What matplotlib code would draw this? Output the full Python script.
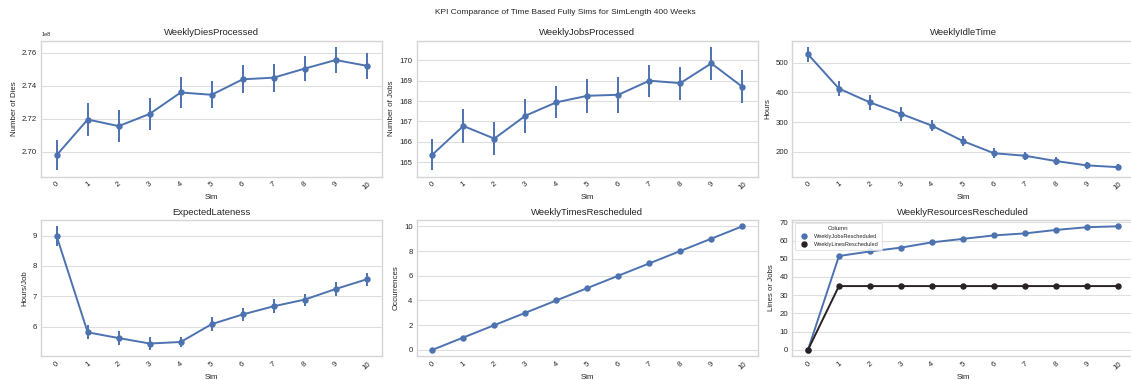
import matplotlib
matplotlib.use("Agg")
import matplotlib.pyplot as plt
from matplotlib.lines import Line2D
import numpy as np

plt.rcParams['font.family'] = ['Liberation Sans', 'DejaVu Sans']
plt.rcParams['text.color'] = '.15'
plt.rcParams['axes.labelcolor'] = '.15'
plt.rcParams['xtick.color'] = '.15'
plt.rcParams['ytick.color'] = '.15'

sims = list(range(11))

dies_mean = [2.6980e8, 2.7196e8, 2.7156e8, 2.7230e8, 2.7360e8, 2.7346e8,
             2.7440e8, 2.7450e8, 2.7505e8, 2.7557e8, 2.7522e8]
dies_err = [0.0093e8, 0.0100e8, 0.0098e8, 0.0096e8, 0.0093e8, 0.0082e8,
            0.0084e8, 0.0085e8, 0.0075e8, 0.0080e8, 0.0078e8]

jobs_mean = [165.37, 166.78, 166.16, 167.28, 167.94, 168.26,
             168.31, 169.00, 168.88, 169.85, 168.70]
jobs_err = [0.77, 0.82, 0.80, 0.83, 0.78, 0.84, 0.87, 0.79, 0.81, 0.81, 0.80]

idle_mean = [529, 413, 366.5, 328, 288, 236, 195, 186.6, 168.6, 154, 148]
idle_err = [25, 25, 24, 24, 18, 18, 16, 13, 13, 11, 11]

late_mean = [8.98, 5.81, 5.62, 5.44, 5.49, 6.08, 6.40, 6.67, 6.89, 7.24, 7.56]
late_err = [0.33, 0.23, 0.23, 0.21, 0.18, 0.22, 0.22, 0.23, 0.20, 0.23, 0.22]

times_resched = [0, 1, 2, 3, 4, 5, 6, 7, 8, 9, 10]

jobs_resched = [0, 51.5, 54.0, 56.1, 59.0, 60.9, 62.8, 63.9, 65.8, 67.3, 67.8]
lines_resched = [0, 35, 35, 35, 35, 35, 35, 35, 35, 35, 35]

blue = '#4c72b0'
dark = '#2a2222'

fig, axes = plt.subplots(2, 3, figsize=(11.31, 3.8), dpi=100)
fig.subplots_adjust(left=0.0364, right=1.0022, top=0.893, bottom=0.063,
                    wspace=0.1015, hspace=0.32)
fig.suptitle('KPI Comparance of Time Based Fully Sims for SimLength 400 Weeks',
             fontsize=6, y=0.975)


def style(ax, title, ylabel):
    ax.set_facecolor('white')
    for s in ax.spines.values():
        s.set_color('#d5d5d5')
        s.set_linewidth(1.0)
    ax.grid(axis='y', color='#dedede', linewidth=0.8)
    ax.set_axisbelow(True)
    ax.tick_params(length=0, labelsize=5.6, pad=3)
    ax.set_xlim(-0.5, 10.5)
    ax.set_xticks(sims)
    ax.set_xticklabels([str(s) for s in sims], rotation=40)
    ax.set_title(title, fontsize=6.8, pad=4)
    ax.set_ylabel(ylabel, fontsize=5.7, labelpad=3)
    ax.set_xlabel('Sim', fontsize=5.7, labelpad=2)
    ax.yaxis.get_offset_text().set_fontsize(4)


def point(ax, mean, err=None, color=blue, label=None):
    ax.plot(sims, mean, color=color, linewidth=1.4, marker='o', markersize=3.6,
            label=label, zorder=3)
    if err is not None:
        lo = np.array(mean) - np.array(err)
        hi = np.array(mean) + np.array(err)
        ax.vlines(sims, lo, hi, color=color, linewidth=1.4, zorder=3)


point(axes[0, 0], dies_mean, dies_err)
style(axes[0, 0], 'WeeklyDiesProcessed', 'Number of Dies')

point(axes[0, 1], jobs_mean, jobs_err)
style(axes[0, 1], 'WeeklyJobsProcessed', 'Number of Jobs')

point(axes[0, 2], idle_mean, idle_err)
style(axes[0, 2], 'WeeklyIdleTime', 'Hours')

point(axes[1, 0], late_mean, late_err)
style(axes[1, 0], 'ExpectedLateness', 'Hours/Job')

point(axes[1, 1], times_resched)
style(axes[1, 1], 'WeeklyTimesRescheduled', 'Occurrences')

ax = axes[1, 2]
point(ax, jobs_resched, color=blue)
point(ax, lines_resched, color=dark)
style(ax, 'WeeklyResourcesRescheduled', 'Lines or Jobs')
handles = [Line2D([], [], color=blue, marker='o', linestyle='', markersize=3.6),
           Line2D([], [], color=dark, marker='o', linestyle='', markersize=3.6)]
leg = ax.legend(handles, ['WeeklyJobsRescheduled', 'WeeklyLinesRescheduled'],
                title='Column', loc='upper left', fontsize=4.1, title_fontsize=4.3,
                frameon=True, handletextpad=0.6, borderpad=0.6)
leg.get_frame().set_edgecolor('#dddddd')
leg.get_frame().set_linewidth(0.8)

fig.savefig('out.png', dpi=100)
